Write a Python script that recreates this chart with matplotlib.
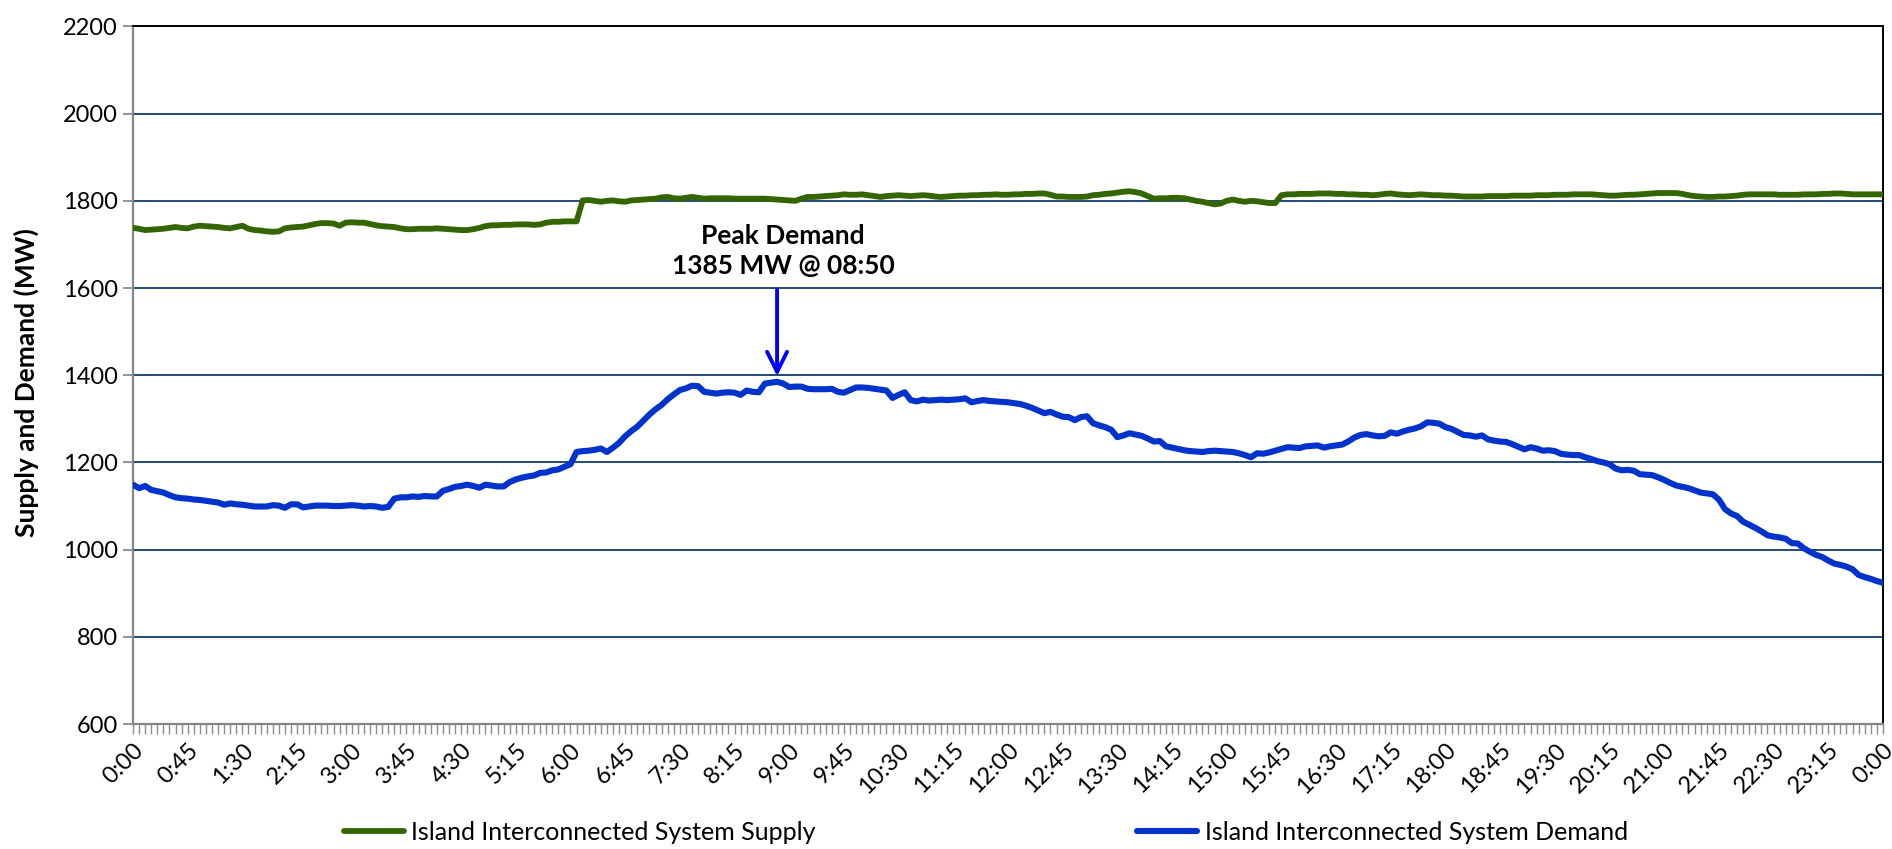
import matplotlib
matplotlib.use('Agg')
import matplotlib.pyplot as plt
import numpy as np

plt.rcParams['font.family'] = ['Lato', 'DejaVu Sans']

# 5-minute readings, 0:00 .. 24:00 (289 points)
demand = [
    1149, 1141, 1146, 1137, 1134, 1131, 1125, 1120, 1118, 1117, 1115, 1114,
    1112, 1110, 1108, 1103, 1106, 1104, 1103, 1101, 1099, 1099, 1099, 1102,
    1101, 1096, 1104, 1104, 1097, 1099, 1101, 1101, 1101, 1100, 1100, 1101,
    1102, 1101, 1099, 1100, 1099, 1096, 1098, 1117, 1120, 1120, 1122, 1121,
    1123, 1122, 1122, 1135, 1139, 1144, 1146, 1149, 1146, 1142, 1149, 1147,
    1145, 1145, 1155, 1161, 1165, 1168, 1170, 1176, 1177, 1182, 1184, 1190,
    1196, 1224, 1226, 1227, 1229, 1232, 1224, 1234, 1245, 1260, 1272, 1282,
    1296, 1310, 1322, 1332, 1345, 1356, 1366, 1370, 1376, 1375, 1362, 1360,
    1358, 1360, 1361, 1360, 1355, 1365, 1362, 1361, 1381, 1383, 1385, 1381,
    1373, 1374, 1374, 1369, 1368, 1368, 1368, 1369, 1362, 1360, 1366, 1372,
    1372, 1371, 1369, 1367, 1365, 1348, 1355, 1361, 1343, 1340, 1344, 1342,
    1343, 1344, 1343, 1344, 1345, 1347, 1338, 1341, 1343, 1341, 1340, 1339,
    1338, 1336, 1334, 1330, 1325, 1319, 1313, 1316, 1310, 1305, 1304, 1297,
    1304, 1306, 1290, 1285, 1281, 1275, 1258, 1262, 1267, 1264, 1261, 1255,
    1248, 1249, 1237, 1234, 1231, 1228, 1226, 1225, 1224, 1226, 1227, 1226,
    1225, 1224, 1221, 1217, 1212, 1221, 1220, 1223, 1227, 1231, 1235, 1234,
    1233, 1237, 1238, 1239, 1234, 1237, 1239, 1241, 1248, 1257, 1263, 1265,
    1262, 1260, 1261, 1269, 1266, 1271, 1275, 1278, 1283, 1292, 1291, 1289,
    1281, 1277, 1270, 1263, 1262, 1259, 1262, 1253, 1250, 1248, 1247, 1242,
    1236, 1230, 1235, 1232, 1227, 1228, 1226, 1220, 1218, 1217, 1217, 1212,
    1208, 1203, 1200, 1196, 1186, 1182, 1183, 1181, 1173, 1172, 1171, 1166,
    1160, 1153, 1147, 1144, 1141, 1136, 1131, 1129, 1127, 1115, 1093, 1083,
    1077, 1064, 1057, 1050, 1042, 1033, 1030, 1028, 1025, 1015, 1014, 1003,
    995, 988, 983, 975, 968, 965, 961, 955, 942, 937, 933, 928,
    924,
]

supply = [
    1738, 1736, 1733, 1734, 1735, 1736, 1738, 1740, 1738, 1737, 1741, 1743,
    1742, 1741, 1740, 1738, 1737, 1740, 1743, 1736, 1733, 1732, 1730, 1729,
    1730, 1737, 1739, 1740, 1741, 1744, 1747, 1749, 1749, 1748, 1743, 1750,
    1751, 1750, 1750, 1747, 1744, 1742, 1741, 1740, 1737, 1735, 1735, 1736,
    1736, 1736, 1737, 1736, 1735, 1734, 1733, 1733, 1735, 1738, 1742, 1744,
    1744, 1745, 1745, 1746, 1746, 1746, 1745, 1746, 1750, 1752, 1752, 1753,
    1753, 1753, 1801, 1802, 1800, 1798, 1800, 1801, 1799, 1798, 1801, 1802,
    1803, 1804, 1805, 1808, 1809, 1806, 1805, 1807, 1809, 1807, 1805, 1806,
    1806, 1806, 1806, 1805, 1805, 1805, 1805, 1805, 1805, 1804, 1803, 1802,
    1801, 1800, 1805, 1809, 1809, 1810, 1811, 1812, 1813, 1815, 1814, 1814,
    1815, 1813, 1811, 1809, 1811, 1812, 1813, 1812, 1811, 1812, 1813, 1812,
    1810, 1809, 1810, 1811, 1812, 1812, 1813, 1813, 1814, 1814, 1815, 1814,
    1814, 1815, 1815, 1816, 1816, 1817, 1817, 1814, 1810, 1810, 1809, 1809,
    1809, 1810, 1813, 1814, 1816, 1817, 1819, 1821, 1822, 1820, 1817, 1811,
    1805, 1806, 1806, 1807, 1807, 1806, 1803, 1800, 1798, 1795, 1792, 1794,
    1800, 1803, 1800, 1798, 1800, 1799, 1797, 1795, 1795, 1813, 1815, 1815,
    1816, 1816, 1816, 1817, 1817, 1817, 1816, 1816, 1815, 1815, 1814, 1814,
    1813, 1814, 1816, 1817, 1815, 1814, 1813, 1814, 1815, 1814, 1813, 1813,
    1812, 1812, 1811, 1810, 1810, 1810, 1810, 1811, 1811, 1811, 1811, 1812,
    1812, 1812, 1812, 1813, 1813, 1813, 1814, 1814, 1814, 1815, 1815, 1815,
    1815, 1814, 1813, 1812, 1812, 1813, 1814, 1814, 1815, 1816, 1817, 1818,
    1818, 1818, 1818, 1816, 1813, 1811, 1810, 1809, 1809, 1810, 1810, 1811,
    1812, 1814, 1815, 1815, 1815, 1815, 1815, 1814, 1814, 1814, 1814, 1815,
    1815, 1815, 1816, 1816, 1817, 1817, 1816, 1815, 1815, 1815, 1815, 1815,
    1815,
]

tick_labels = ['0:00', '0:45', '1:30', '2:15', '3:00', '3:45', '4:30', '5:15',
               '6:00', '6:45', '7:30', '8:15', '9:00', '9:45', '10:30', '11:15',
               '12:00', '12:45', '13:30', '14:15', '15:00', '15:45', '16:30',
               '17:15', '18:00', '18:45', '19:30', '20:15', '21:00', '21:45',
               '22:30', '23:15', '0:00']

peak_idx = 106   # 08:50
peak_val = 1385

x = np.arange(len(demand))

fig = plt.figure(figsize=(18.92, 8.49), dpi=100)
ax = fig.add_axes([0.0703, 0.1472, 0.9249, 0.8216])

green = '#336600'
blue = '#0033CC'
ax.plot(x, supply, color=green, lw=4.2, solid_capstyle='round', zorder=3,
        label='Island Interconnected System Supply')
ax.plot(x, demand, color=blue, lw=4.4, solid_capstyle='round', zorder=4,
        label='Island Interconnected System Demand')

ax.set_xlim(0, len(demand) - 1)
ax.set_ylim(600, 2200)
ax.set_yticks(np.arange(600, 2201, 200))
ax.yaxis.grid(True, color='#24497a', lw=1.4)
ax.set_axisbelow(True)

ax.set_xticks(np.arange(0, len(demand), 9))
ax.set_xticklabels(tick_labels, rotation=45, ha='right', rotation_mode='anchor')
ax.set_xticks(x, minor=True)
ax.tick_params(axis='x', which='both', length=7, width=1, color='#8c8c8c',
               direction='out', labelsize=17, pad=4)
ax.tick_params(axis='y', length=7, width=1.3, color='#8c8c8c', labelsize=17, pad=4)

for s in ['left', 'bottom']:
    ax.spines[s].set_color('#868686')
    ax.spines[s].set_linewidth(1.6)
for s in ['top', 'right']:
    ax.spines[s].set_color('black')
    ax.spines[s].set_linewidth(1.4)

ax.set_ylabel('Supply and Demand (MW)', fontsize=19, fontweight='bold')
ax.yaxis.set_label_coords(-0.054, 0.49)

# peak annotation
ax.annotate('', xy=(peak_idx, 1398), xytext=(peak_idx, 1596),
            arrowprops=dict(arrowstyle='->', color='#0000FF', lw=2.8,
                            mutation_scale=36, shrinkA=0, shrinkB=0))
ax.text(peak_idx + 1, 1686, 'Peak Demand\n%d MW @ 08:50' % peak_val,
        ha='center', va='center', fontsize=19, fontweight='bold',
        linespacing=1.3)

h1, h2 = ax.get_lines()[:2]
fig.legend(handles=[h1], loc='center left', bbox_to_anchor=(0.1818, 0.0193),
           frameon=False, fontsize=18, handlelength=2.4, handletextpad=0.3,
           borderpad=0, borderaxespad=0)
fig.legend(handles=[h2], loc='center left', bbox_to_anchor=(0.601, 0.0193),
           frameon=False, fontsize=18, handlelength=2.4, handletextpad=0.3,
           borderpad=0, borderaxespad=0)

fig.savefig('out.png', dpi=100)
